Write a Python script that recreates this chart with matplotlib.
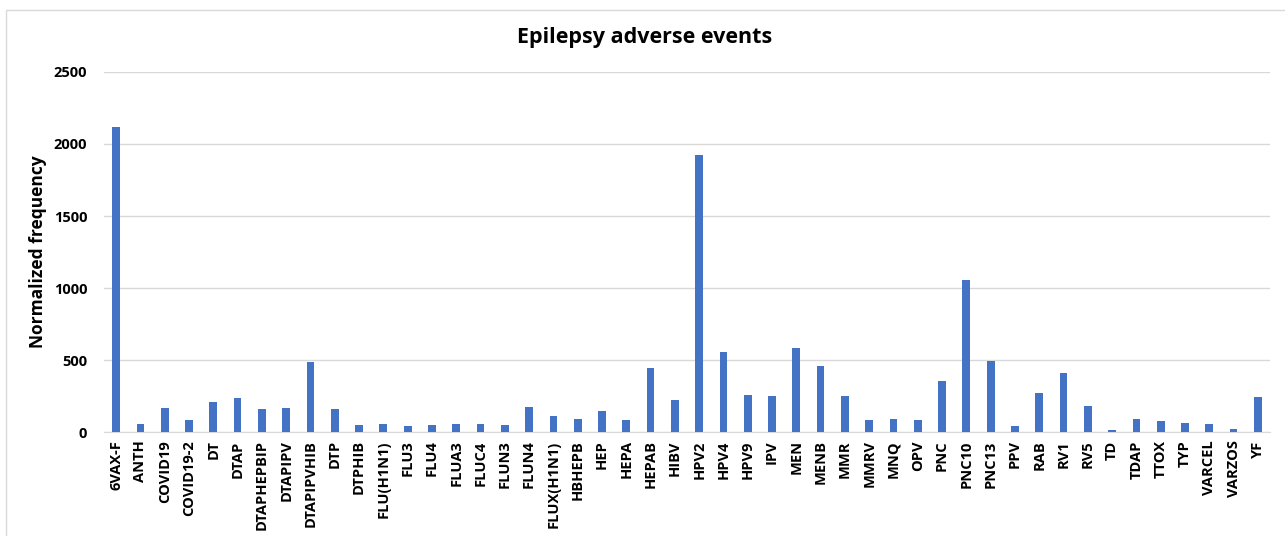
"""Bar chart of normalized epilepsy adverse event frequency per vaccine type."""

import matplotlib

matplotlib.use("Agg")
import matplotlib.pyplot as plt
from matplotlib.patches import Rectangle

vaccines = [
    "6VAX-F", "ANTH", "COVID19", "COVID19-2", "DT", "DTAP", "DTAPHEPBIP",
    "DTAPIPV", "DTAPIPVHIB", "DTP", "DTPHIB", "FLU(H1N1)", "FLU3", "FLU4",
    "FLUA3", "FLUC4", "FLUN3", "FLUN4", "FLUX(H1N1)", "HBHEPB", "HEP", "HEPA",
    "HEPAB", "HIBV", "HPV2", "HPV4", "HPV9", "IPV", "MEN", "MENB", "MMR",
    "MMRV", "MNQ", "OPV", "PNC", "PNC10", "PNC13", "PPV", "RAB", "RV1", "RV5",
    "TD", "TDAP", "TTOX", "TYP", "VARCEL", "VARZOS", "YF",
]
frequency = [
    2120, 55, 167, 83, 207, 233, 159,
    169, 488, 157, 48, 55, 43, 50,
    59, 57, 48, 176, 112, 88, 145, 81,
    445, 224, 1922, 554, 257, 252, 583, 459, 252,
    81, 88, 83, 354, 1054, 495, 45, 274, 412, 178,
    14, 93, 76, 64, 59, 19, 240,
]
y_ticks = [0, 500, 1000, 1500, 2000, 2500]

plt.rcParams["font.family"] = ["Open Sans", "DejaVu Sans"]

fig = plt.figure(figsize=(12.85, 5.36), dpi=100)
ax = fig.add_axes([104 / 1285, 104 / 536, 1166 / 1285, 360 / 536])

# light frame around the chart area
fig.patches.append(Rectangle((6 / 1285, -0.05), 1.1, (526 / 536) + 0.05,
                             transform=fig.transFigure, fill=False,
                             edgecolor="#d9d9d9", linewidth=1.0))

x = range(len(vaccines))
ax.bar(x, frequency, width=0.32, color="#4472C4", zorder=3)

ax.set_xlim(-0.5, len(vaccines) - 0.5)
ax.set_ylim(0, 2500)
ax.set_yticks(y_ticks)
ax.set_yticklabels([str(t) for t in y_ticks], fontsize=10.5, fontweight="bold")
ax.set_xticks(list(x))
ax.set_xticklabels(vaccines, rotation=90, fontsize=10.5, fontweight="bold")
ax.tick_params(axis="both", length=0)
ax.tick_params(axis="y", pad=12)
ax.tick_params(axis="x", pad=6)

ax.grid(axis="y", color="#d9d9d9", linewidth=1.0, zorder=0)
for side in ("top", "right", "left"):
    ax.spines[side].set_visible(False)
ax.spines["bottom"].set_color("#d9d9d9")

ax.set_ylabel("Normalized frequency", fontsize=12.5, fontweight="bold", labelpad=5)
fig.text(645 / 1285, 1 - 38 / 536, "Epilepsy adverse events",
         ha="center", va="center", fontsize=15.5, fontweight="bold")

fig.savefig("out.png", dpi=100)
